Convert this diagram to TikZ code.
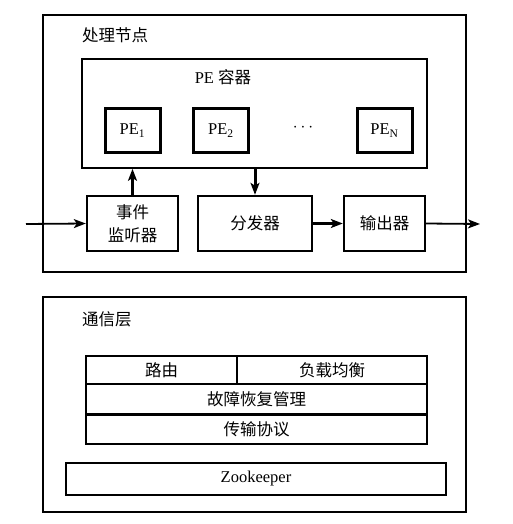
\documentclass[tikz,border=0pt]{standalone}
\usepackage{fontspec}
\setmainfont{Liberation Serif}
\newfontfamily\cjk{Noto Sans CJK SC}
\usetikzlibrary{arrows.meta}
\tikzset{
  box/.style={draw,line width=1.7pt,inner sep=0,font=\fontsize{16.5}{18}\selectfont},
  pe/.style={box,line width=3pt,minimum width=55pt,minimum height=43pt},
  blk/.style={box,line width=2.4pt,minimum height=55pt,align=center},
  row/.style={box,line width=1.8pt},
  ttl/.style={inner sep=0,font=\fontsize{16.5}{18}\selectfont},
  arr/.style={-{Stealth[length=12pt,width=9pt,inset=3pt]},line width=1.8pt}
}
\begin{document}
\begin{tikzpicture}[x=1pt,y=-1pt]
  \useasboundingbox (0,0) rectangle (512,524);

  % processing node
  \node[box,minimum width=423pt,minimum height=257pt] (node) at (254.5,143.5) {};
  \node[ttl,anchor=west] (nodettl) at (82,35) {\cjk 处理节点};
  \node[box,minimum width=345pt,minimum height=109pt] (cont) at (254.5,113.5) {};
  \node[ttl] (contttl) at (223,77) {PE {\cjk 容器}};
  \node[pe] (pe1) at (132.5,130.5) {PE\textsubscript{1}};
  \node[pe] (pe2) at (221,130.5) {PE\textsubscript{2}};
  \node[ttl] (dots) at (303,128) {$\cdots$};
  \node[pe] (pen) at (384.5,130.5) {PE\textsubscript{N}};

  \node[blk,minimum width=91pt] (lsn) at (132.5,223.5) {\cjk 事件\\[5pt]\cjk 监听器};
  \node[blk,minimum width=114pt] (dist) at (255,223.5) {\cjk 分发器};
  \node[blk,minimum width=81pt] (outp) at (384.5,223.5) {\cjk 输出器};
  \coordinate (in) at (26,224);
  \coordinate (out) at (480,224);

  \draw[arr] (in) -- (lsn.west);
  \draw[arr,line width=2.2pt] (lsn.north) -- (lsn.north |- cont.south);
  \draw[arr,line width=3pt] (cont.south -| dist.north) -- (dist.north);
  \draw[arr,line width=3pt] (dist.east) -- (outp.west);
  \draw[arr] (outp.east) -- (out);

  % communication layer
  \node[box,minimum width=423pt,minimum height=215pt] (comm) at (254.5,404.5) {};
  \node[ttl,anchor=west] (commttl) at (82,319) {\cjk 通信层};
  \node[row,minimum width=151pt,minimum height=28pt] (route) at (161.5,370) {\cjk 路由};
  \node[row,minimum width=190pt,minimum height=28pt] (bal) at (332,370) {\cjk 负载均衡};
  \node[row,minimum width=341pt,minimum height=30pt] (fault) at (256.5,399) {\cjk 故障恢复管理};
  \node[row,minimum width=341pt,minimum height=30pt] (trans) at (256.5,429) {\cjk 传输协议};
  \draw[line width=3pt] (fault.south west) -- (fault.south east);
  \node[row,minimum width=380pt,minimum height=32pt] (zk) at (256,479) {Zookeeper};
\end{tikzpicture}
\end{document}
